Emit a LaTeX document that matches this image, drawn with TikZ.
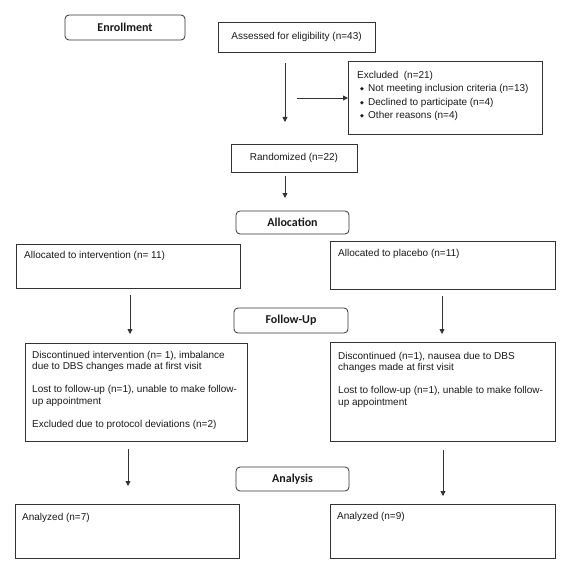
\documentclass[tikz,border=0pt]{standalone}
\usepackage{fontspec}
\setmainfont{Liberation Sans}
\newfontfamily\hdrfont{Carlito}
\newfontfamily\symfont{DejaVu Sans}
\usetikzlibrary{arrows.meta}
\newcommand{\dbul}{\hspace*{3pt}\makebox[8pt][l]{\raisebox{1pt}{\symfont\fontsize{5}{5}\selectfont ◆}}}
\begin{document}
\begin{tikzpicture}[x=1pt,y=-1pt,
  box/.style={draw=black!80, line width=0.8pt, inner sep=0pt, outer sep=0pt, anchor=north west},
  hbox/.style={box, rounded corners=4pt},
  hdr/.style={font=\hdrfont\bfseries\fontsize{12}{14}\selectfont, text=black!90, inner sep=0pt},
  ctxt/.style={font=\fontsize{10}{11.5}\selectfont, text=black!90, inner sep=0pt},
  txt/.style={font=\fontsize{10}{11.5}\selectfont, align=left, anchor=north west, inner sep=0pt, text=black!90},
  arr/.style={draw=black!80, line width=0.8pt, -{Triangle[length=5pt,width=5pt]}}]
\useasboundingbox (0,0) rectangle (572,583);

% header boxes
\node[hbox, minimum width=120pt, minimum height=25pt] (enroll) at (65,15) {};
\node[hdr] (enrollT) at (enroll.center) {Enrollment};
\node[hbox, minimum width=113pt, minimum height=23pt] (alloc) at (236,211) {};
\node[hdr] (allocT) at (alloc.center) {Allocation};
\node[hbox, minimum width=114pt, minimum height=25pt] (follow) at (234,308) {};
\node[hdr] (followT) at (follow.center) {Follow-Up};
\node[hbox, minimum width=113pt, minimum height=24pt] (analysis) at (236,467) {};
\node[hdr] (analysisT) at (analysis.center) {Analysis};

% enrollment
\node[box, minimum width=157pt, minimum height=30pt] (assess) at (218,22) {};
\node[ctxt] (assessT) at (assess.center) {Assessed for eligibility (n=43)};
\node[box, minimum width=194pt, minimum height=73pt] (excl) at (348,61) {};
\node[txt, font=\fontsize{10}{13.3}\selectfont] (exclT) at (357,71) {Excluded\ \ (n=21)\\
\dbul Not meeting inclusion criteria (n=13)\\
\dbul Declined to participate (n=4)\\
\dbul Other reasons (n=4)};
\node[box, minimum width=126pt, minimum height=28pt] (rand) at (231,144) {};
\node[ctxt] (randT) at (rand.center) {Randomized (n=22)};

% allocation
\node[box, minimum width=224pt, minimum height=44pt] (interv) at (16,244) {};
\node[txt] (intervT) at (24,251) {Allocated to intervention (n= 11)};
\node[box, minimum width=225pt, minimum height=48pt] (plac) at (330,241) {};
\node[txt] (placT) at (338,249) {Allocated to placebo (n=11)};

% follow-up
\node[box, minimum width=222pt, minimum height=98pt] (discL) at (25,343) {};
\node[txt] (discLT) at (32,351) {Discontinued intervention (n= 1), imbalance\\
due to DBS changes made at first visit\\[11.5pt]
Lost to follow-up (n=1), unable to make follow-\\
up appointment\\[11.5pt]
Excluded due to protocol deviations (n=2)};
\node[box, minimum width=225pt, minimum height=99pt] (discR) at (330,342) {};
\node[txt] (discRT) at (338,352) {Discontinued (n=1), nausea due to DBS\\
changes made at first visit\\[11.5pt]
Lost to follow-up (n=1), unable to make follow-\\
up appointment};

% analysis
\node[box, minimum width=224pt, minimum height=54pt] (anL) at (15,504) {};
\node[txt] (anLT) at (22,513) {Analyzed (n=7)};
\node[box, minimum width=225pt, minimum height=54pt] (anR) at (330,504) {};
\node[txt] (anRT) at (337,512) {Analyzed (n=9)};

% arrows
\coordinate (a1s) at (285,63);  \coordinate (a1e) at (285,122);
\coordinate (a2s) at (297,98);  \coordinate (a2e) at (348,98);
\coordinate (a3s) at (285,176); \coordinate (a3e) at (285,198);
\coordinate (a4s) at (130,295); \coordinate (a4e) at (130,334);
\coordinate (a5s) at (442,296); \coordinate (a5e) at (442,334);
\coordinate (a6s) at (128,449); \coordinate (a6e) at (128,486);
\coordinate (a7s) at (443,450); \coordinate (a7e) at (443,496);
\draw[arr] (a1s) -- (a1e);
\draw[arr] (a2s) -- (a2e);
\draw[arr] (a3s) -- (a3e);
\draw[arr] (a4s) -- (a4e);
\draw[arr] (a5s) -- (a5e);
\draw[arr] (a6s) -- (a6e);
\draw[arr] (a7s) -- (a7e);
\end{tikzpicture}
\end{document}
